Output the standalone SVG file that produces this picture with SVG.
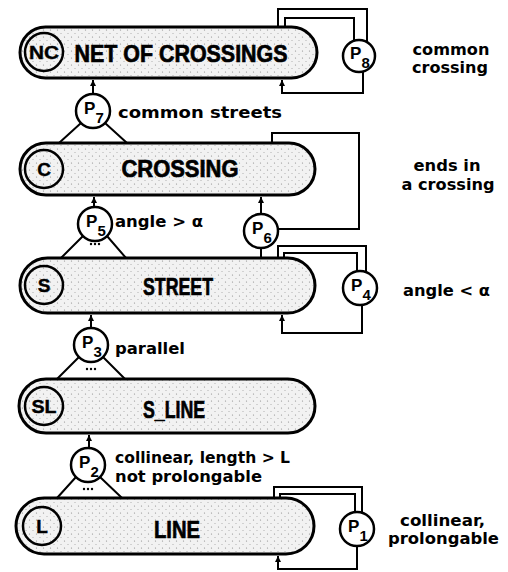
<svg xmlns="http://www.w3.org/2000/svg" width="508" height="572" viewBox="0 0 508 572">
<defs>
<pattern id="stip" width="7" height="7" patternUnits="userSpaceOnUse">
<rect width="7" height="7" fill="#f2f2f2"/>
<circle cx="1.5" cy="2" r="0.6" fill="#8a8a8a"/>
<circle cx="5" cy="5.5" r="0.5" fill="#9a9a9a"/>
</pattern>
<marker id="ah" viewBox="0 0 8 8" refX="8" refY="4" markerWidth="6" markerHeight="6" orient="auto" markerUnits="userSpaceOnUse">
<path d="M0,0 L8,4 L0,8 z" fill="#000"/>
</marker>
</defs>
<style>
.bar{fill:url(#stip);stroke:#000;stroke-width:3}
.tag{fill:none;stroke:#000;stroke-width:2.5}
.pc{fill:#fff;stroke:#000;stroke-width:2.5}
.big{font-family:"Liberation Sans",Arial,sans-serif;font-weight:bold;font-size:24px;fill:#000;stroke:#000;stroke-width:0.7;text-anchor:middle}
.tg{font-family:"Liberation Sans",Arial,sans-serif;font-weight:bold;font-size:19px;fill:#000;stroke:#000;stroke-width:0.4;text-anchor:middle}
.p{font-family:"Liberation Sans",Arial,sans-serif;font-weight:bold;font-size:17px;fill:#000}
.ps{font-family:"Liberation Sans",Arial,sans-serif;font-weight:bold;font-size:15px;fill:#000}
.lb{font-family:"DejaVu Sans",Verdana,sans-serif;font-weight:bold;font-size:16px;fill:#000}
.lc{font-family:"DejaVu Sans",Verdana,sans-serif;font-weight:bold;font-size:15px;fill:#000;text-anchor:middle}
.cn{fill:none;stroke:#000;stroke-width:2}
.dot{fill:#000}
</style>

<g id="NC">
<rect class="bar" x="20" y="27" width="297" height="51" rx="25.5"/>
<circle class="tag" cx="44" cy="52" r="19"/>
<text class="tg" x="44" y="59" textLength="30" lengthAdjust="spacingAndGlyphs">NC</text>
<text class="big" x="181" y="62" textLength="213" lengthAdjust="spacingAndGlyphs">NET OF CROSSINGS</text>
</g>
<g id="C">
<rect class="bar" x="20" y="143" width="295" height="52" rx="26"/>
<circle class="tag" cx="44" cy="169" r="19"/>
<text class="tg" x="44" y="176">C</text>
<text class="big" x="180" y="177" textLength="117" lengthAdjust="spacingAndGlyphs">CROSSING</text>
</g>
<g id="S">
<rect class="bar" x="20" y="258" width="295" height="55" rx="27.5"/>
<circle class="tag" cx="44" cy="285" r="19"/>
<text class="tg" x="44" y="292">S</text>
<text class="big" x="178" y="295" textLength="70" lengthAdjust="spacingAndGlyphs">STREET</text>
</g>
<g id="SL">
<rect class="bar" x="19" y="379" width="296" height="54" rx="27"/>
<circle class="tag" cx="44" cy="406" r="19"/>
<text class="tg" x="44" y="413" textLength="25" lengthAdjust="spacingAndGlyphs">SL</text>
<text class="big" x="174" y="418" textLength="62" lengthAdjust="spacingAndGlyphs">S_LINE</text>
</g>
<g id="L">
<rect class="bar" x="16" y="498" width="298" height="56" rx="28"/>
<circle class="tag" cx="42" cy="526" r="19"/>
<text class="tg" x="42" y="533">L</text>
<text class="big" x="177" y="538" textLength="46" lengthAdjust="spacingAndGlyphs">LINE</text>
</g>

<g id="connectors">
<path class="cn" d="M93 94 V80" marker-end="url(#ah)"/>
<path class="cn" d="M59 143 L81 123 M127 143 L105 123"/>
<path class="cn" d="M94 207 V197" marker-end="url(#ah)"/>
<path class="cn" d="M61 258 L83 236 M126 258 L107 236"/>
<path class="cn" d="M261 214 V197" marker-end="url(#ah)"/>
<path class="cn" d="M261 248 V258"/>
<path class="cn" d="M278 229 H359 V133 H272 V143"/>
<path class="cn" d="M91 328 V315" marker-end="url(#ah)"/>
<path class="cn" d="M57 379 L79 357 M125 379 L103 357"/>
<path class="cn" d="M89 448 V435" marker-end="url(#ah)"/>
<path class="cn" d="M57 498 L76 477 M122 498 L100 477"/>
<path class="cn" d="M278 27 V9 H367 V42"/>
<path class="cn" d="M285 27 V18 H354 V41"/>
<path class="cn" d="M363 72 V93 H282 V80" marker-end="url(#ah)"/>
<path class="cn" d="M278 258 V246 H366 V272"/>
<path class="cn" d="M284 258 V253 H357 V271"/>
<path class="cn" d="M362 305 V333 H282 V315" marker-end="url(#ah)"/>
<path class="cn" d="M274 498 V487 H362 V513"/>
<path class="cn" d="M280 498 V494 H355 V512"/>
<path class="cn" d="M357 546 V569 H278 V556" marker-end="url(#ah)"/>
</g>

<g id="P7">
<circle class="pc" cx="93" cy="111" r="17"/>
<text class="p" x="84" y="114">P</text><text class="ps" x="95.5" y="123">7</text>
<text class="lb" x="118" y="118" textLength="164" lengthAdjust="spacingAndGlyphs">common streets</text>
</g>
<g id="P5">
<circle class="pc" cx="95" cy="224" r="17"/>
<text class="p" x="86" y="227">P</text><text class="ps" x="97.5" y="236">5</text>
<circle class="dot" cx="91" cy="244" r="1.2"/><circle class="dot" cx="95" cy="244" r="1.2"/><circle class="dot" cx="99" cy="244" r="1.2"/>
<text class="lb" x="115" y="227" textLength="88" lengthAdjust="spacingAndGlyphs">angle &gt; α</text>
</g>
<g id="P6">
<circle class="pc" cx="261" cy="231" r="17"/>
<text class="p" x="252" y="234">P</text><text class="ps" x="263.5" y="243">6</text>
<text class="lc" x="447" y="171" textLength="67" lengthAdjust="spacingAndGlyphs">ends in</text>
<text class="lc" x="448" y="190" textLength="93" lengthAdjust="spacingAndGlyphs">a crossing</text>
</g>
<g id="P8">
<circle class="pc" cx="359" cy="56" r="16"/>
<text class="p" x="350" y="59">P</text><text class="ps" x="361.5" y="68">8</text>
<text class="lc" x="451" y="55" textLength="77" lengthAdjust="spacingAndGlyphs">common</text>
<text class="lc" x="450" y="73" textLength="76" lengthAdjust="spacingAndGlyphs">crossing</text>
</g>
<g id="P4">
<circle class="pc" cx="360" cy="288" r="17"/>
<text class="p" x="351" y="291">P</text><text class="ps" x="362.5" y="300">4</text>
<text class="lb" x="403" y="296" textLength="87" lengthAdjust="spacingAndGlyphs">angle &lt; α</text>
</g>
<g id="P3">
<circle class="pc" cx="91" cy="345" r="17"/>
<text class="p" x="82" y="348">P</text><text class="ps" x="93.5" y="357">3</text>
<circle class="dot" cx="87" cy="369" r="1.2"/><circle class="dot" cx="91" cy="369" r="1.2"/><circle class="dot" cx="95" cy="369" r="1.2"/>
<text class="lb" x="115" y="354" textLength="70" lengthAdjust="spacingAndGlyphs">parallel</text>
</g>
<g id="P2">
<circle class="pc" cx="88" cy="465" r="17"/>
<text class="p" x="79" y="468">P</text><text class="ps" x="90.5" y="477">2</text>
<circle class="dot" cx="84" cy="489" r="1.2"/><circle class="dot" cx="88" cy="489" r="1.2"/><circle class="dot" cx="92" cy="489" r="1.2"/>
<text class="lb" x="115" y="463" textLength="175" lengthAdjust="spacingAndGlyphs">collinear, length &gt; L</text>
<text class="lb" x="115" y="482" textLength="147" lengthAdjust="spacingAndGlyphs">not prolongable</text>
</g>
<g id="P1">
<circle class="pc" cx="357" cy="529" r="17"/>
<text class="p" x="348" y="532">P</text><text class="ps" x="359.5" y="541">1</text>
<text class="lb" x="400" y="526" textLength="85" lengthAdjust="spacingAndGlyphs">collinear,</text>
<text class="lb" x="388" y="544" textLength="111" lengthAdjust="spacingAndGlyphs">prolongable</text>
</g>
</svg>
